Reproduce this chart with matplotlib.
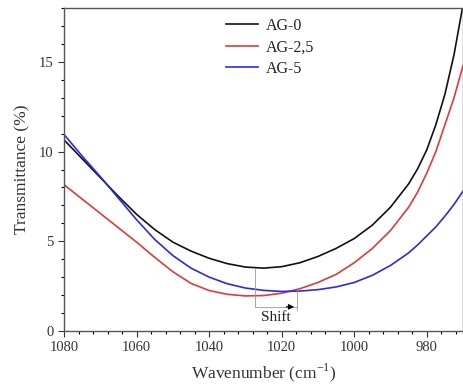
import matplotlib
matplotlib.use("Agg")
import matplotlib.pyplot as plt
from matplotlib.ticker import MultipleLocator

plt.rcParams['font.family'] = ['Liberation Serif', 'DejaVu Serif']
plt.rcParams['mathtext.fontset'] = 'custom'
plt.rcParams['mathtext.rm'] = 'Liberation Serif'

wavenumber = [1080, 1075, 1070, 1065, 1060, 1055, 1050, 1045, 1040, 1035, 1030, 1025,
              1020, 1015, 1010, 1005, 1000, 995, 990, 985, 982.5, 980, 977.5, 975, 972.5, 970]
ag0 = [10.65, 9.6, 8.55, 7.5, 6.5, 5.65, 4.95, 4.45, 4.05, 3.75, 3.56, 3.5,
       3.58, 3.8, 4.15, 4.6, 5.15, 5.9, 6.9, 8.2, 9.05, 10.1, 11.5, 13.2, 15.4, 18.2]
ag25 = [8.15, 7.35, 6.55, 5.75, 4.95, 4.1, 3.3, 2.65, 2.25, 2.04, 1.95, 1.97,
        2.1, 2.35, 2.7, 3.15, 3.8, 4.6, 5.6, 6.9, 7.75, 8.8, 10.0, 11.5, 13.0, 14.8]
ag5 = [10.95, 9.75, 8.6, 7.4, 6.2, 5.1, 4.2, 3.5, 3.0, 2.63, 2.39, 2.26,
       2.2, 2.22, 2.3, 2.45, 2.7, 3.1, 3.65, 4.35, 4.8, 5.3, 5.8, 6.4, 7.05, 7.8]
labels = ['AG-0', 'AG-2,5', 'AG-5']
colors = ['#111111', '#e03a3a', '#2b2be0']

fig = plt.figure(figsize=(4.64, 3.87), dpi=100)
ax = fig.add_axes([0.138, 0.145, 0.860, 0.834])

for y, lab, c in zip([ag0, ag25, ag5], labels, colors):
    ax.plot(wavenumber, y, color=c, lw=1.2, label=lab)

ax.set_xlim(1080, 970)
ax.set_ylim(0, 18)
ax.xaxis.set_major_locator(MultipleLocator(20))
ax.xaxis.set_minor_locator(MultipleLocator(4))
ax.yaxis.set_major_locator(MultipleLocator(5))
ax.yaxis.set_minor_locator(MultipleLocator(1))
ax.tick_params(which='major', direction='out', length=4, width=0.8, labelsize=10.5, colors='#333333')
ax.tick_params(which='minor', direction='out', length=2.5, width=0.8)
for s in ax.spines.values():
    s.set_color('#555555')
    s.set_linewidth(1.0)

ax.set_xlabel('Wavenumber (cm$^{\\mathregular{-1}}$)', fontsize=12.5, color='#333333', labelpad=5)
ax.set_ylabel('Transmittance (%)', fontsize=12.5, color='#333333', labelpad=6)

# Shift annotation
ax.plot([1027.3, 1027.3], [3.5, 1.34], color='#999999', lw=0.6)
ax.plot([1027.3, 1015.8], [1.34, 1.34], color='#999999', lw=0.6)
ax.plot([1015.8, 1015.8], [2.3, 1.15], color='#999999', lw=0.6)
ax.annotate('', xy=(1015.8, 1.34), xytext=(1019.5, 1.34),
            arrowprops=dict(arrowstyle='-|>', color='black', lw=0.8, mutation_scale=8))
ax.text(1021.5, 0.72, 'Shift', ha='center', va='center', fontsize=11, color='#222222')

leg = ax.legend(loc='upper left', bbox_to_anchor=(0.37, 1.015), frameon=False,
                fontsize=11.5, handlelength=2.0, handletextpad=0.5, labelspacing=0.35)
for t in leg.get_texts():
    t.set_color('#222222')

fig.savefig('out.png', dpi=100)
